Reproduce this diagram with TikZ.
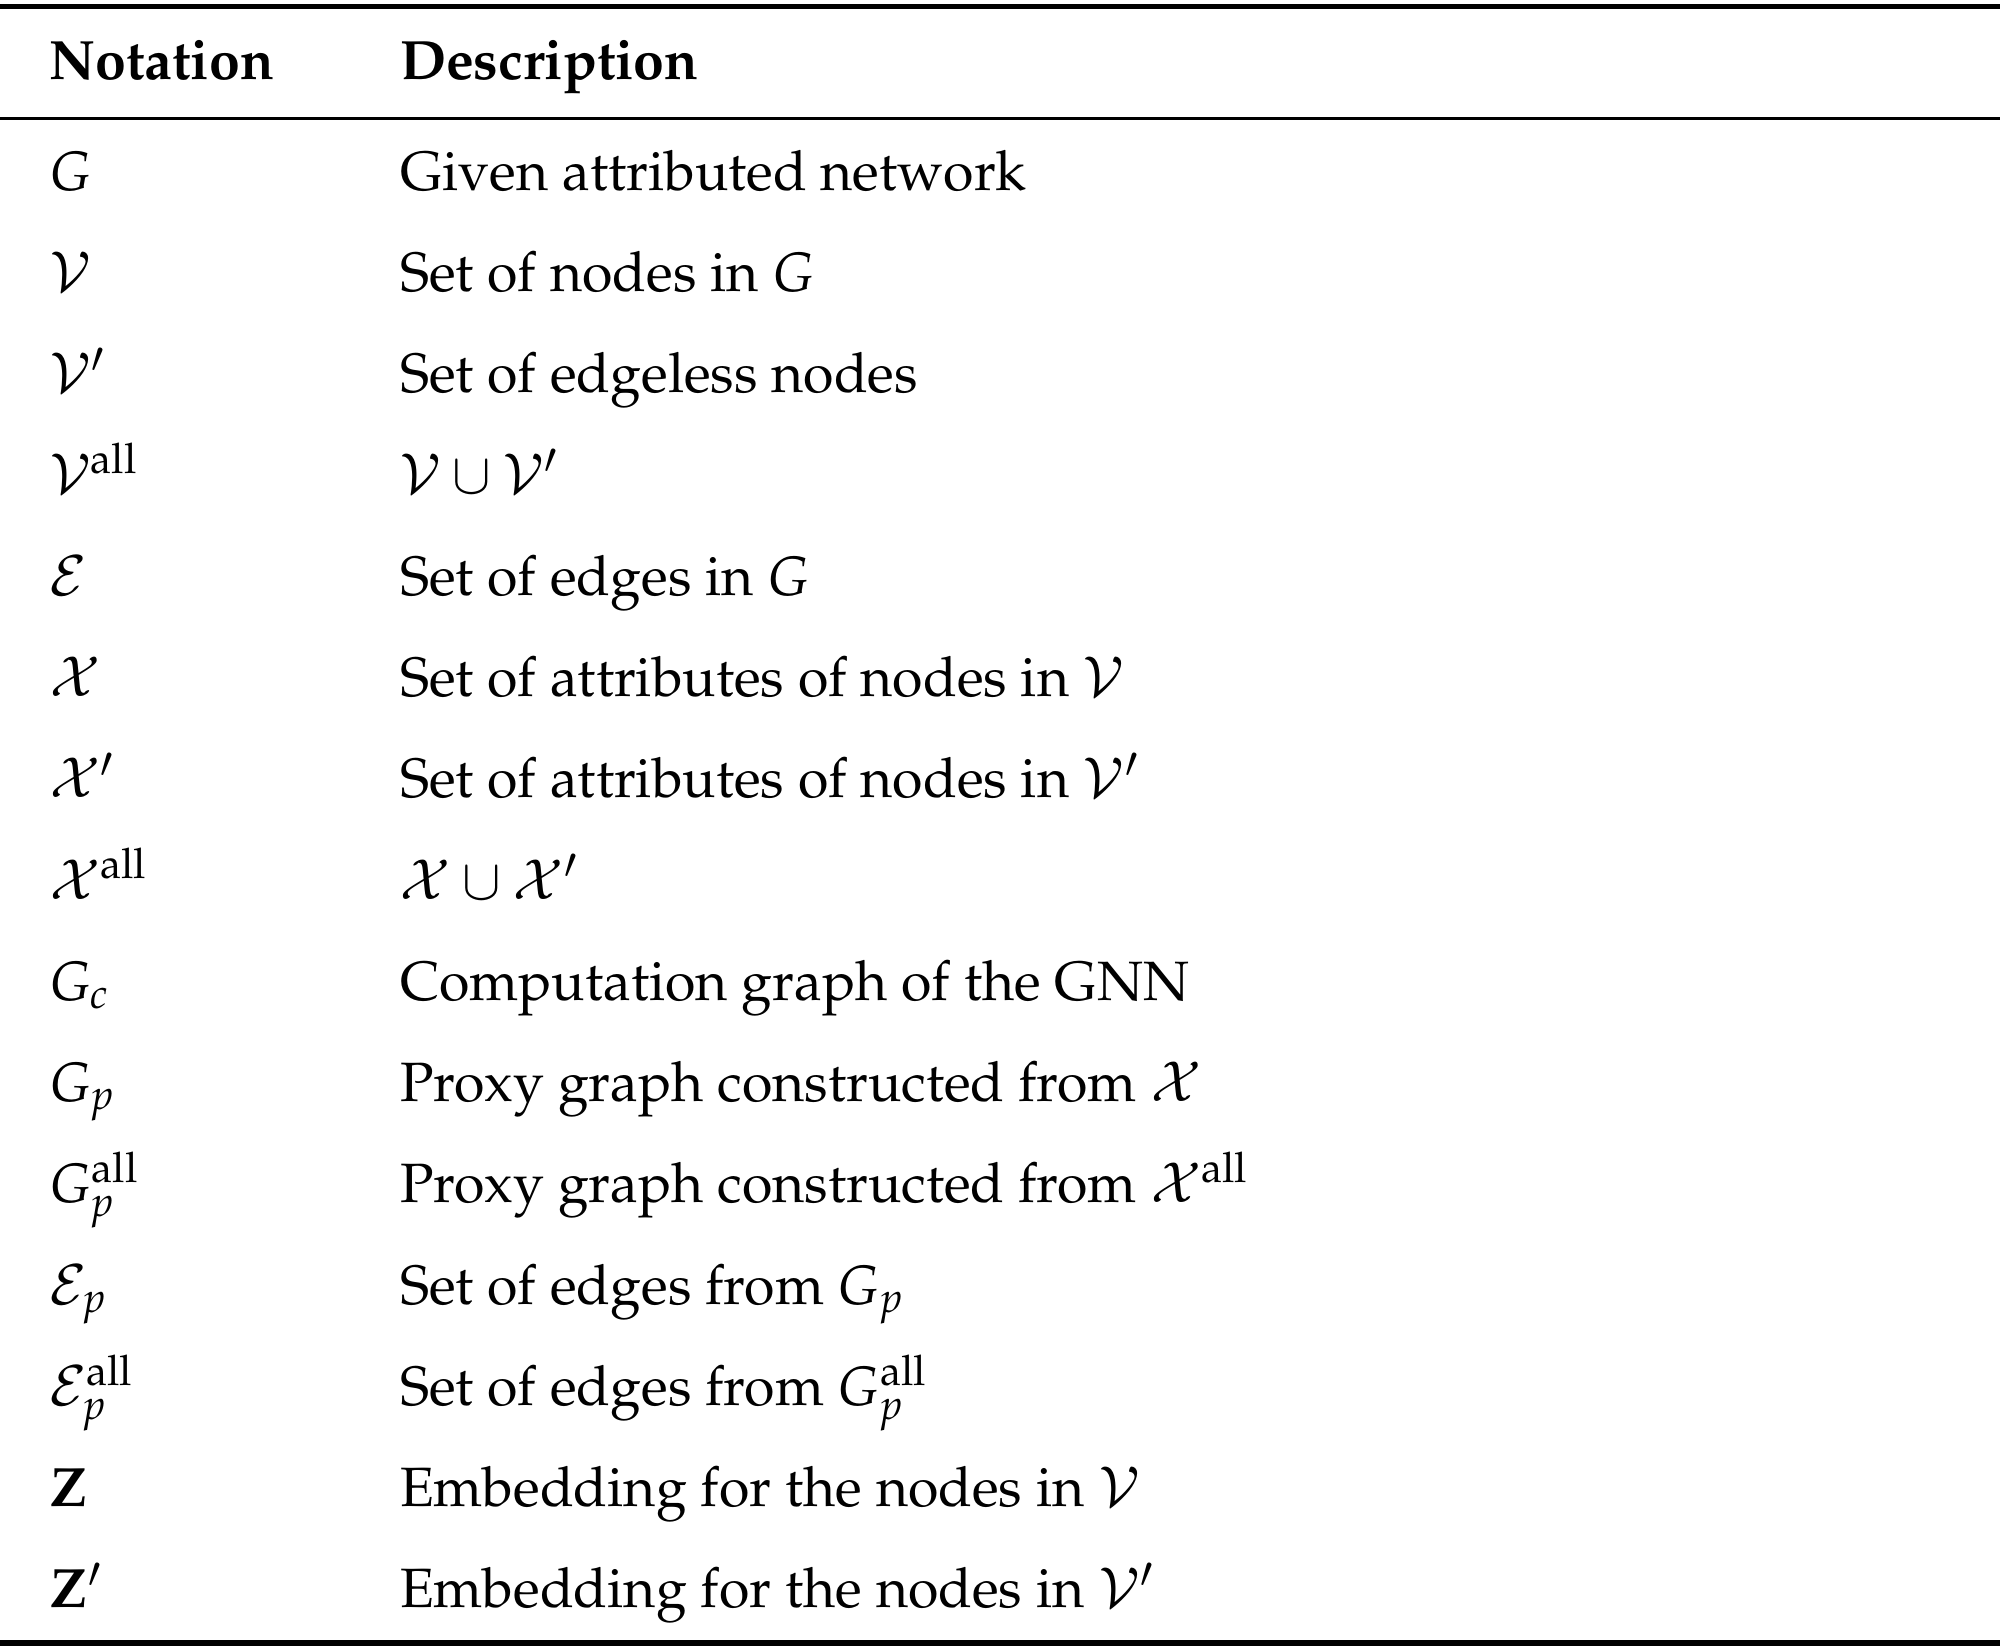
\documentclass[tikz,border=0pt]{standalone}
\usepackage[T1]{fontenc}
\usepackage{mathpazo}
\usepackage{amssymb}
\def\unit{0.0102}
\def\rowsep{79.4}

\begin{document}
\begin{tikzpicture} [x = \unit cm, y = -\unit cm,
    cell/.style = {anchor = base west, inner sep = 0pt,
      font = \fontsize{12.6}{15}\selectfont}]
    \useasboundingbox (0, 0) rectangle (1568, 1294);

    \draw[line width = 1.2pt] (0, 5) -- (1568, 5);
    \draw[line width = 0.6pt] (0, 93) -- (1568, 93);
    \draw[line width = 1.2pt] (0, 1288) -- (1568, 1288);

    \node[cell] (nhead) at (38, 62) {\bfseries Notation};
    \node[cell] (dhead) at (313, 62) {\bfseries Description};

    \foreach \sym/\desc [count = \i from 0] in {
        {$G$}/{Given attributed network},
        {$\mathcal{V}$}/{Set of nodes in $G$},
        {$\mathcal{V}'$}/{Set of edgeless nodes},
        {$\mathcal{V}^{\mathrm{all}}$}/{$\mathcal{V} \cup \mathcal{V}'$},
        {$\mathcal{E}$}/{Set of edges in $G$},
        {$\mathcal{X}$}/{Set of attributes of nodes in $\mathcal{V}$},
        {$\mathcal{X}'$}/{Set of attributes of nodes in $\mathcal{V}'$},
        {$\mathcal{X}^{\mathrm{all}}$}/{$\mathcal{X} \cup \mathcal{X}'$},
        {$G_c$}/{Computation graph of the GNN},
        {$G_p$}/{Proxy graph constructed from $\mathcal{X}$},
        {$G_p^{\mathrm{all}}$}/{Proxy graph constructed from $\mathcal{X}^{\mathrm{all}}$},
        {$\mathcal{E}_p$}/{Set of edges from $G_p$},
        {$\mathcal{E}_p^{\mathrm{all}}$}/{Set of edges from $G_p^{\mathrm{all}}$},
        {$\mathbf{Z}$}/{Embedding for the nodes in $\mathcal{V}$},
        {$\mathbf{Z}'$}/{Embedding for the nodes in $\mathcal{V}'$}} {
      \node[cell] (n\i) at (38, {149 + \rowsep*\i}) {\sym};
      \node[cell] (d\i) at (313, {149 + \rowsep*\i}) {\desc};
    }
  \end{tikzpicture}
\end{document}
